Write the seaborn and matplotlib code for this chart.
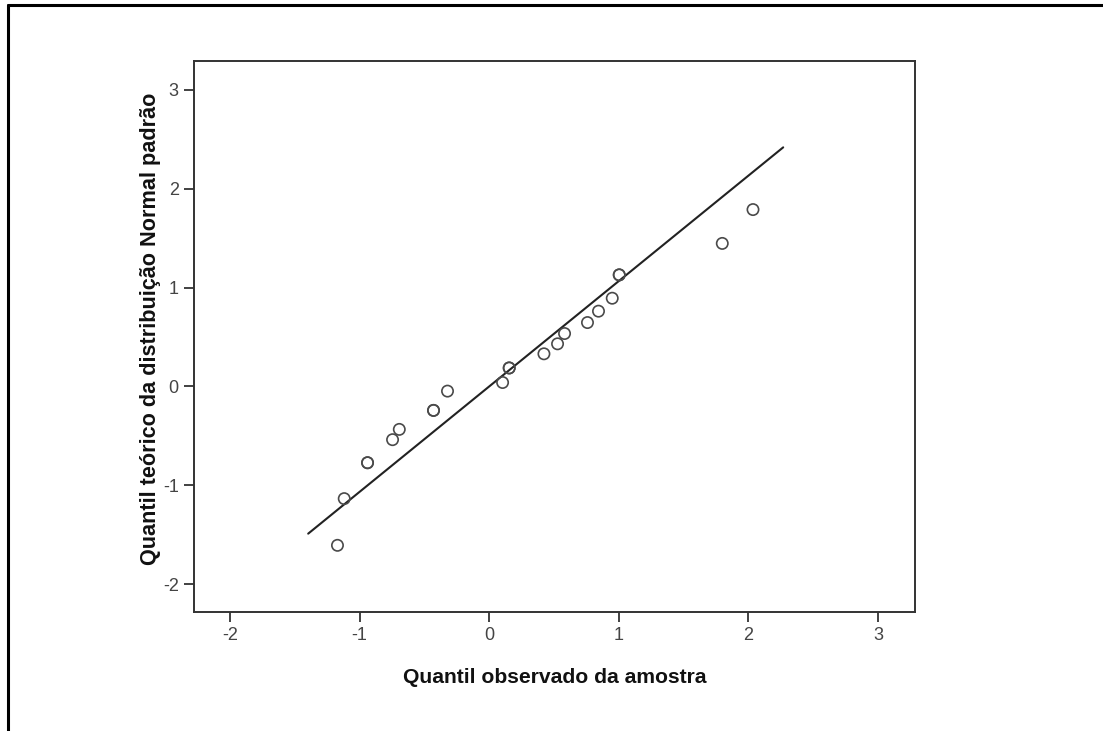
import matplotlib
matplotlib.use("Agg")
import matplotlib.pyplot as plt
from matplotlib.lines import Line2D
import numpy as np
import pandas as pd
import seaborn as sns

# Observed sample quantiles (x) and theoretical standard-normal quantiles (y).
# Tied observations appear twice and overlap on the plot.
observado = [-1.171, -1.119, -0.939, -0.939, -0.746, -0.694, -0.430, -0.430,
             -0.322, 0.103, 0.154, 0.154, 0.422, 0.527, 0.581, 0.758, 0.843,
             0.949, 1.003, 1.003, 1.798, 2.035]
teorico = [-1.606, -1.134, -0.771, -0.771, -0.538, -0.434, -0.242, -0.242,
           -0.047, 0.040, 0.187, 0.187, 0.330, 0.431, 0.535, 0.646, 0.761,
           0.892, 1.128, 1.128, 1.446, 1.788]

# Reference line end points
linha_x = [-1.397, 2.268]
linha_y = [-1.488, 2.417]

ticks = [-2, -1, 0, 1, 2, 3]

sns.set_style("ticks")
plt.rcParams["font.family"] = ["Liberation Sans", "DejaVu Sans"]

fig = plt.figure(figsize=(11.03, 7.31), dpi=100)
ax = fig.add_axes([194 / 1103, 1 - 612 / 731, (915 - 194) / 1103, (612 - 61) / 731])

pontos = pd.DataFrame({"observado": observado, "teorico": teorico})
linha = pd.DataFrame({"x": linha_x, "y": linha_y})

sns.lineplot(data=linha, x="x", y="y", ax=ax, color="#222222", linewidth=1.5,
             sort=False)
sns.scatterplot(data=pontos, x="observado", y="teorico", ax=ax, marker="o",
                s=66, facecolor="none", edgecolor="#4a4a4a", linewidth=1.2,
                zorder=3)

ax.set_xlim(-2.278, 3.285)
ax.set_ylim(-2.28, 3.29)
ax.set_xticks(ticks)
ax.set_yticks(ticks)
ax.set_xticklabels([str(t) for t in ticks])
ax.set_yticklabels([str(t) for t in ticks])
ax.tick_params(axis="both", direction="out", length=7, width=1.3,
               color="#333333", labelsize=13, labelcolor="#444444", pad=4)

for sp in ax.spines.values():
    sp.set_visible(True)
    sp.set_color("#333333")
    sp.set_linewidth(1.4)

ax.set_xlabel("Quantil observado da amostra", fontsize=15.2, fontweight="bold",
              color="#111111", labelpad=17)
ax.set_ylabel("Quantil teórico da distribuição Normal padrão", fontsize=15.6,
              fontweight="bold", color="#111111", labelpad=1)
ax.yaxis.label.set_y(0.514)

# Frame around the figure (left and top edges)
fig.add_artist(Line2D([8 / 1103, 8 / 1103], [0, 1 - 5 / 731],
                      transform=fig.transFigure, color="black", linewidth=2.2))
fig.add_artist(Line2D([8 / 1103, 1], [1 - 5 / 731, 1 - 5 / 731],
                      transform=fig.transFigure, color="black", linewidth=2.2))

fig.savefig("out.png", dpi=100, facecolor="white")
